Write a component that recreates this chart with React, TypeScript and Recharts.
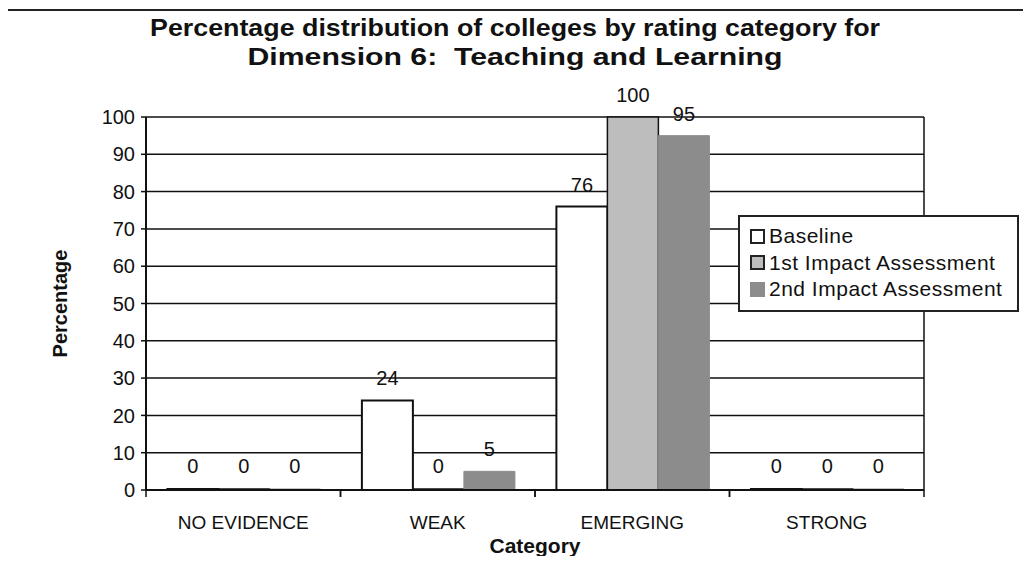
import React from "react";
import { BarChart, Bar, XAxis, YAxis, CartesianGrid, Legend, LabelList, Label } from "recharts";

const categories = ["NO EVIDENCE", "WEAK", "EMERGING", "STRONG"];
const baseline = [0, 24, 76, 0];
const firstImpact = [0, 0, 100, 0];
const secondImpact = [0, 5, 95, 0];
const yTicks = [0, 10, 20, 30, 40, 50, 60, 70, 80, 90, 100];
const titleLines = [
  "Percentage distribution of colleges by rating category for",
  "Dimension 6:\u00a0 Teaching and Learning",
];
const seriesNames = ["Baseline", "1st Impact Assessment", "2nd Impact Assessment"];

const data = categories.map((c, i) => ({
  category: c,
  baseline: baseline[i],
  first: firstImpact[i],
  second: secondImpact[i],
}));

const FONT = "'Liberation Sans', Arial, Helvetica, sans-serif";
const X_TICK_MARGIN = 26;

const seriesStyle = [
  { key: "baseline", fill: "#ffffff", stroke: "#111111", strokeWidth: 2, marker: "#222" },
  { key: "first", fill: "#bdbdbd", stroke: "#111111", strokeWidth: 1.5, marker: "#222" },
  { key: "second", fill: "#8c8c8c", stroke: "#8c8c8c", strokeWidth: 1, marker: "#8c8c8c" },
];

const ValueLabel = (props: any) => {
  const { x, y, width, value } = props;
  const off = value === 0 ? 16 : 15;
  return (
    <text
      x={x + width / 2}
      y={y - off}
      textAnchor="middle"
      fontSize={20}
      fontFamily={FONT}
      fill="#111"
    >
      {value}
    </text>
  );
};

const CategoryTick = (props: any) => {
  const { x, y, payload } = props;
  const half = payload && payload.offset ? payload.offset : 0;
  const axisY = y - X_TICK_MARGIN;
  return (
    <g>
      <line x1={x - half} x2={x - half} y1={axisY} y2={axisY + 7} stroke="#111" strokeWidth={1.5} />
      <line x1={x + half} x2={x + half} y1={axisY} y2={axisY + 7} stroke="#111" strokeWidth={1.5} />
      <text x={x} y={y} dy="0.71em" textAnchor="middle" fontSize={19} fontFamily={FONT} fill="#111">
        {payload.value}
      </text>
    </g>
  );
};

const LegendBox = () => {
  return (
    <div
      style={{
        border: "2px solid #222",
        background: "#fff",
        padding: "6px 4px 7px 10px",
        fontFamily: FONT,
        fontSize: 21,
        color: "#111",
        boxSizing: "border-box",
        width: 281,
      }}
    >
      {seriesStyle.map((s, i) => (
        <div key={s.key} style={{ display: "flex", alignItems: "center", height: 26.5, whiteSpace: "nowrap" }}>
          <span
            style={{
              display: "inline-block",
              width: 11,
              height: 11,
              background: s.fill,
              border: `2px solid ${s.marker}`,
              marginRight: 4,
            }}
          />
          <span style={{ letterSpacing: 0.5 }}>{seriesNames[i]}</span>
        </div>
      ))}
    </div>
  );
};

export default function App() {
  return (
    <div style={{ position: "relative", width: 1031, height: 564, margin: -8, background: "#fff" }}>
      <svg
        width={1031}
        height={564}
        style={{ position: "absolute", left: 0, top: 0, pointerEvents: "none" }}
      >
        <line x1={6} y1={10} x2={1031} y2={10} stroke="#222" strokeWidth={2} />
        <line x1={6} y1={10} x2={6} y2={564} stroke="#222" strokeWidth={2} />
        <text
          x={515}
          y={36}
          textAnchor="middle"
          fontSize={24}
          fontWeight="bold"
          fontFamily={FONT}
          fill="#111"
          textLength={730}
          lengthAdjust="spacingAndGlyphs"
        >
          {titleLines[0]}
        </text>
        <text
          x={515}
          y={65}
          textAnchor="middle"
          fontSize={24}
          fontWeight="bold"
          fontFamily={FONT}
          fill="#111"
          textLength={535}
          lengthAdjust="spacingAndGlyphs"
        >
          {titleLines[1]}
        </text>
      </svg>
      <div style={{ position: "absolute", left: 0, top: 0 }}>
        <BarChart
          width={1031}
          height={564}
          data={data}
          margin={{ top: 117, right: 107, bottom: 0, left: 0 }}
          barCategoryGap="11%"
          barGap={0}
        >
          <CartesianGrid
            horizontal
            vertical
            verticalCoordinatesGenerator={(p: any) => [p.offset.left + p.offset.width]}
            stroke="#111"
            strokeWidth={1.5}
            strokeOpacity={1}
          />
          <XAxis
            dataKey="category"
            height={74}
            tickLine={false}
            tickSize={0}
            axisLine={{ stroke: "#111", strokeWidth: 2 }}
            tickMargin={X_TICK_MARGIN}
            tick={<CategoryTick />}
            interval={0}
          >
            <Label
              value="Category"
              position="insideBottom"
              offset={11}
              style={{ fontSize: 21, fontWeight: "bold", fontFamily: FONT, fill: "#111" }}
            />
          </XAxis>
          <YAxis
            width={146}
            domain={[0, 100]}
            ticks={yTicks}
            interval={0}
            tickSize={5}
            tickMargin={6}
            tickLine={{ stroke: "#111", strokeWidth: 1.5 }}
            axisLine={{ stroke: "#111", strokeWidth: 2 }}
            tick={{ fontSize: 20, fontFamily: FONT, fill: "#111" }}
          >
            <Label
              value="Percentage"
              angle={-90}
              position="insideLeft"
              offset={60}
              style={{ textAnchor: "middle", fontSize: 20, fontWeight: "bold", fontFamily: FONT, fill: "#111" }}
            />
          </YAxis>
          <Legend
            content={<LegendBox />}
            layout="vertical"
            verticalAlign="middle"
            align="center"
            wrapperStyle={{ position: "absolute", left: 738, top: 215, width: 281 }}
          />
          {seriesStyle.map((s, i) => (
            <Bar
              key={s.key}
              dataKey={s.key}
              name={seriesNames[i]}
              fill={s.fill}
              stroke={s.stroke}
              strokeWidth={s.strokeWidth}
              minPointSize={1}
              isAnimationActive={false}
            >
              <LabelList dataKey={s.key} content={<ValueLabel />} />
            </Bar>
          ))}
        </BarChart>
      </div>
    </div>
  );
}
